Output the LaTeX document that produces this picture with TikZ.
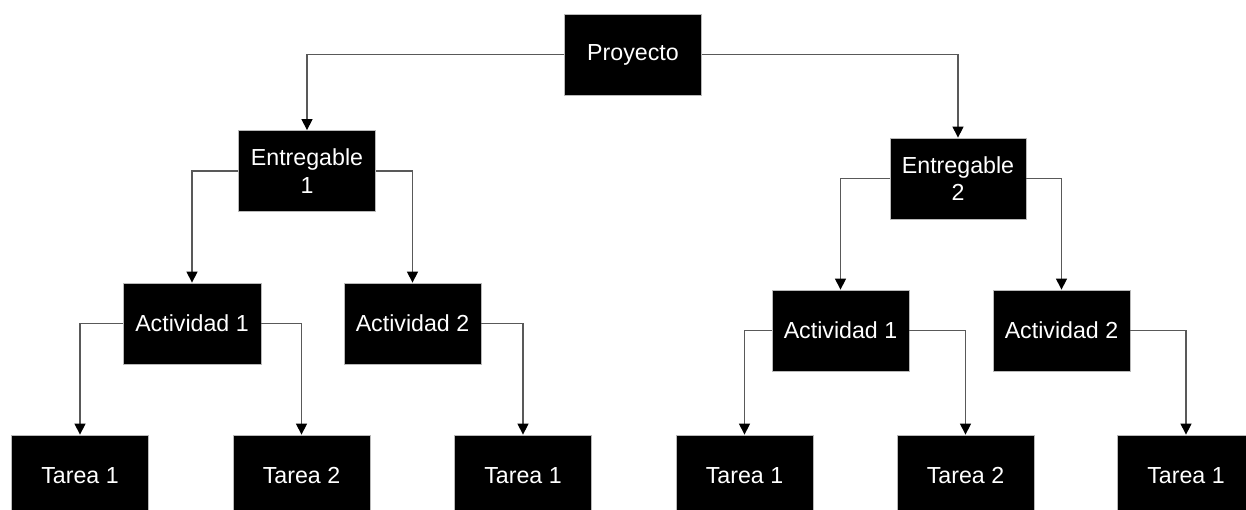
\documentclass[tikz,border=0pt]{standalone}
\usepackage{fontspec}
\setmainfont{Liberation Sans}
\usetikzlibrary{arrows.meta}

\tikzset{
  wbs/.style={rectangle, fill=black, draw=gray!55, line width=0.8pt,
    minimum width=137pt, minimum height=81pt, inner sep=2pt,
    text=white, align=center,
    font=\fontsize{23.2}{27.5}\selectfont},
  link/.style={draw=black!65, line width=1.3pt,
    -{Triangle[width=11pt,length=11pt,fill=black,color=black]}}
}

\begin{document}
\begin{tikzpicture}[x=1pt, y=-1pt]
  \useasboundingbox (0,0) rectangle (1246,510);

  % project level
  \node[wbs] (p) at (633,54.5) {Proyecto};

  % deliverables
  \node[wbs] (e1) at (307,171) {Entregable\\1};
  \node[wbs, minimum width=136pt] (e2) at (958,178.5) {Entregable\\2};

  % activities
  \node[wbs, minimum width=138pt] (a1l) at (192,323.5) {Actividad 1};
  \node[wbs] (a2l) at (412.5,323.5) {Actividad 2};
  \node[wbs] (a1r) at (840.5,330.5) {Actividad 1};
  \node[wbs] (a2r) at (1061.5,330.5) {Actividad 2};

  % tasks
  \node[wbs] (t1) at (80,475.5) {Tarea 1};
  \node[wbs] (t2) at (301.5,475.5) {Tarea 2};
  \node[wbs] (t3) at (523,475.5) {Tarea 1};
  \node[wbs] (t4) at (744.5,475.5) {Tarea 1};
  \node[wbs] (t5) at (965.5,475.5) {Tarea 2};
  \node[wbs] (t6) at (1186,475.5) {Tarea 1};

  % connectors
  \draw[link] (p.west) -| (e1.north);
  \draw[link] (p.east) -| (e2.north);

  \draw[link] (e1.west) -| (a1l.north);
  \draw[link] (e1.east) -| (a2l.north);
  \draw[link] (e2.west) -| (a1r.north);
  \draw[link] (e2.east) -| (a2r.north);

  \draw[link] (a1l.west) -| (t1.north);
  \draw[link] (a1l.east) -| (t2.north);
  \draw[link] (a2l.east) -| (t3.north);
  \draw[link] (a1r.west) -| (t4.north);
  \draw[link] (a1r.east) -| (t5.north);
  \draw[link] (a2r.east) -| (t6.north);
\end{tikzpicture}
\end{document}
